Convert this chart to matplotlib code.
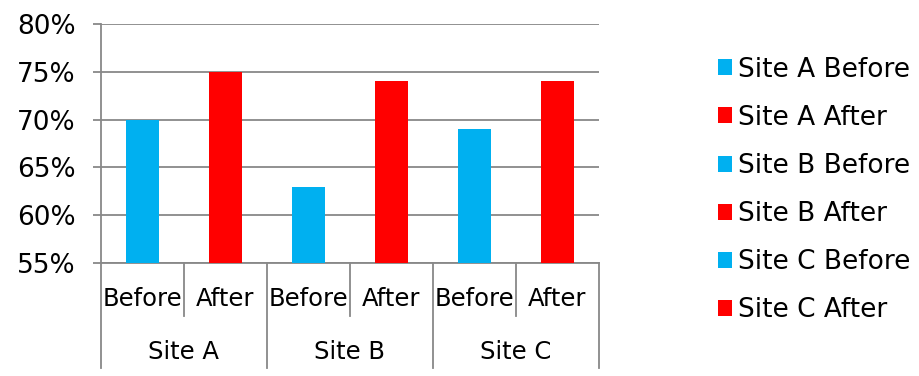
import matplotlib
matplotlib.use("Agg")
import matplotlib.pyplot as plt
from matplotlib.patches import Patch

sites = ["Site A", "Site B", "Site C"]
phases = ["Before", "After"]
values = [70, 75, 63, 74, 69, 74]  # percent, ordered Site A Before/After, Site B ..., Site C ...
phase_colors = {"Before": "#00B0F0", "After": "#FF0000"}
y_ticks = [55, 60, 65, 70, 75, 80]

W, H = 920, 376
fig = plt.figure(figsize=(W / 100, H / 100), dpi=100)
plt.rcParams["font.family"] = ["DejaVu Sans"]
fs_cat = 17.5
fs_tick = 19
fs_leg = 19
grid_color = "#888888"

left, right, top, bottom = 101, 599, 24, 263
ax = fig.add_axes([left / W, 1 - bottom / H, (right - left) / W, (bottom - top) / H])

handles = []
i = 0
for s in sites:
    for p in phases:
        lbl = f"{s} {p}"
        ax.bar(i, values[i] - 55, bottom=55, width=0.4, color=phase_colors[p], zorder=3, label=lbl)
        handles.append(Patch(facecolor=phase_colors[p], label=lbl))
        i += 1

n = len(values)
ax.set_xlim(-0.5, n - 0.5)
ax.set_ylim(55, 80)
ax.set_yticks(y_ticks)
ax.set_yticklabels([f"{t}%" for t in y_ticks], fontsize=fs_tick)
ax.yaxis.grid(True, color=grid_color, linewidth=1.3, zorder=0)
ax.tick_params(axis="y", length=6, width=1.3, color=grid_color, pad=12)
ax.set_xticks([])
for sp in ["top", "right"]:
    ax.spines[sp].set_visible(False)
for sp in ["left", "bottom"]:
    ax.spines[sp].set_color(grid_color)
    ax.spines[sp].set_linewidth(1.3)

# multi-level category axis
trans = ax.get_xaxis_transform()
inner_bottom = -(316 - bottom) / (bottom - top)
outer_bottom = -(368 - bottom) / (bottom - top)
for k in range(n + 1):
    xb = k - 0.5
    yb = outer_bottom if k % 2 == 0 else inner_bottom
    ax.plot([xb, xb], [0, yb], transform=trans, color=grid_color, linewidth=1.3, clip_on=False)

inner_y = -(299 - bottom) / (bottom - top)
outer_y = -(352 - bottom) / (bottom - top)
i = 0
for si, s in enumerate(sites):
    for p in phases:
        ax.text(i, inner_y, p, transform=trans, ha="center", va="center", fontsize=fs_cat)
        i += 1
    ax.text(si * 2 + 0.5, outer_y, s, transform=trans, ha="center", va="center", fontsize=fs_cat)

fig.legend(handles=handles, loc="upper left", bbox_to_anchor=(707 / W, 1 - 46 / H),
           frameon=False, fontsize=fs_leg, handlelength=0.56, handleheight=0.56,
           handletextpad=0.22, labelspacing=0.84, borderaxespad=0)

fig.savefig("out.png", dpi=100)
